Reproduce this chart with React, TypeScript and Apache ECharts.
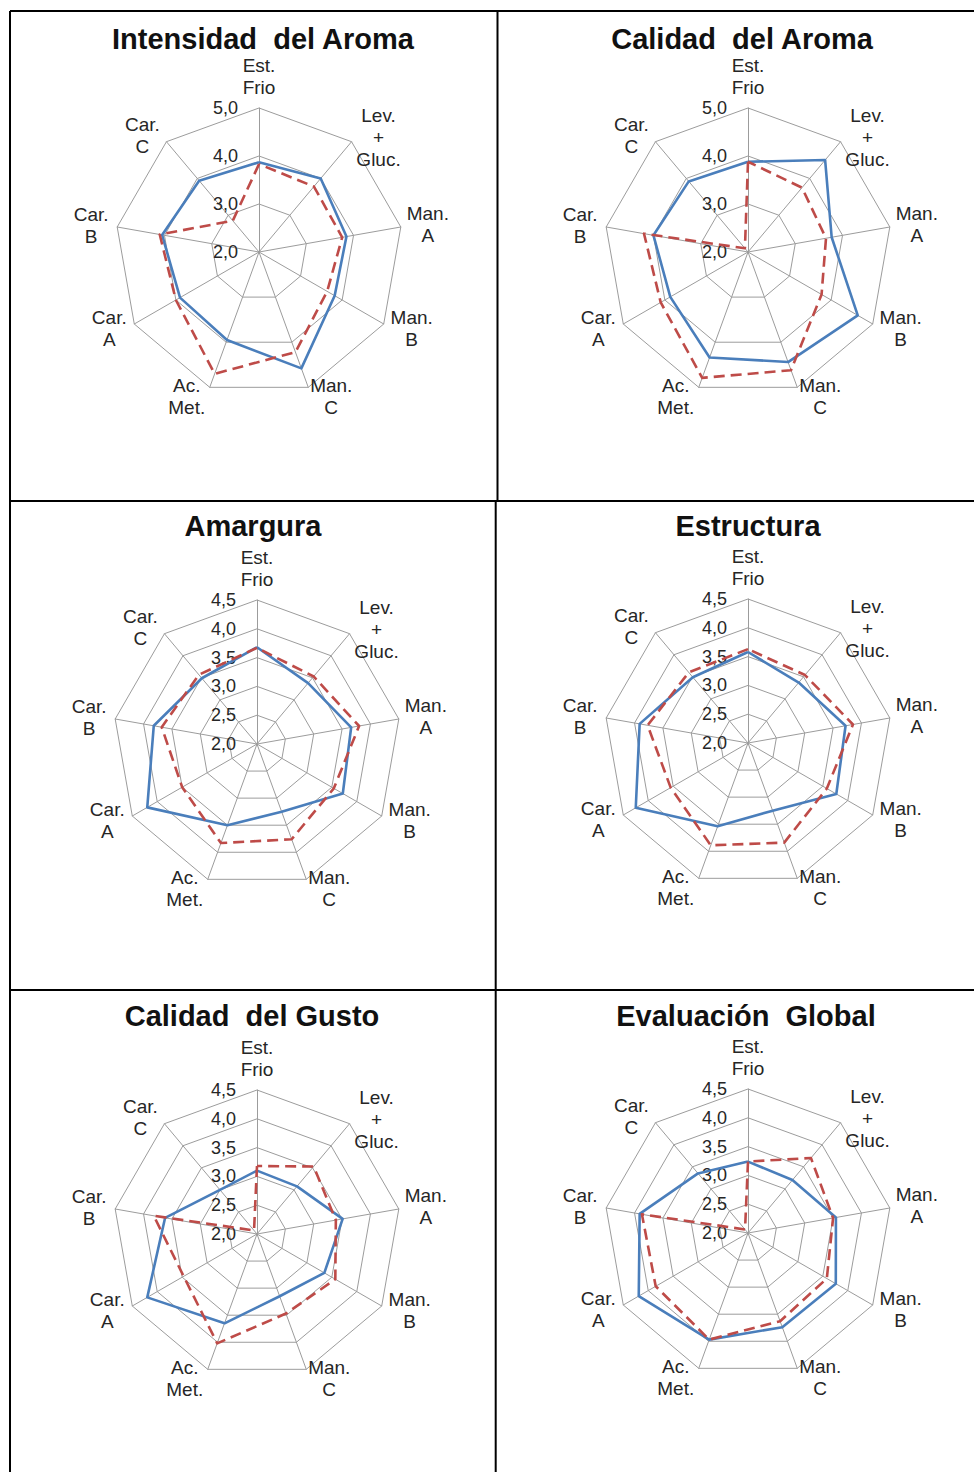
import React, { useEffect, useRef } from "react";
import * as echarts from "echarts";

// ---------- data ----------
const categories = [
  "Est.\nFrio",
  "Lev.\n+\nGluc.",
  "Man.\nA",
  "Man.\nB",
  "Man.\nC",
  "Ac.\nMet.",
  "Car.\nA",
  "Car.\nB",
  "Car.\nC",
];

const titles = [
  "Intensidad  del Aroma",
  "Calidad  del Aroma",
  "Amargura",
  "Estructura",
  "Calidad  del Gusto",
  "Evaluación  Global",
];

const axisMin = 2;
const axisMax = [5, 5, 4.5, 4.5, 4.5, 4.5];
const axisSplits = [3, 3, 5, 5, 5, 5];

// blue solid series / red dashed series, in category order
const intensidadBlue = [3.87, 4.0, 3.85, 3.82, 4.58, 3.95, 3.9, 4.05, 3.94];
const intensidadRed = [3.83, 3.78, 3.76, 3.64, 4.22, 4.7, 4.0, 4.1, 2.85];

const calidadAromaBlue = [3.88, 4.5, 3.77, 4.64, 4.44, 4.34, 3.87, 4.0, 3.92];
const calidadAromaRed = [3.88, 3.75, 3.65, 3.77, 4.62, 4.79, 4.1, 4.2, 2.1];

const amarguraBlue = [3.68, 3.38, 3.66, 3.72, 3.25, 3.5, 4.2, 3.82, 3.49];
const amarguraRed = [3.67, 3.53, 3.8, 3.54, 3.76, 3.83, 3.5, 3.68, 3.57];

const estructuraBlue = [3.58, 3.37, 3.72, 3.77, 3.25, 3.54, 4.25, 3.91, 3.49];
const estructuraRed = [3.63, 3.54, 3.85, 3.58, 3.84, 3.89, 3.55, 3.77, 3.6];

const calidadGustoBlue = [3.1, 3.08, 3.51, 3.35, 3.15, 3.65, 4.2, 3.62, 3.0];
const calidadGustoRed = [3.18, 3.53, 3.39, 3.57, 3.47, 4.02, 3.47, 3.82, 2.08];

const globalBlue = [3.24, 3.2, 3.55, 3.76, 3.74, 3.97, 4.19, 3.91, 3.35];
const globalRed = [3.24, 3.7, 3.5, 3.58, 3.63, 3.97, 3.85, 3.87, 2.08];

const blueSeries = [intensidadBlue, calidadAromaBlue, amarguraBlue, estructuraBlue, calidadGustoBlue, globalBlue];
const redSeries = [intensidadRed, calidadAromaRed, amarguraRed, estructuraRed, calidadGustoRed, globalRed];

// ---------- layout ----------
const W = 974;
const H = 1472;
const FONT = '"Liberation Sans", Arial, sans-serif';
const CENTERS: [number, number][] = [
  [259, 252],
  [748, 252],
  [257, 744],
  [748, 743],
  [257, 1234],
  [748, 1233],
];
const RADIUS = 144;
const TITLE_POS: [number, number][] = [
  [263, 39],
  [742, 39],
  [253, 526],
  [748, 526],
  [252, 1016],
  [746, 1016],
];
// desired label centre offset from the axis end, per category (screen px)
const NAME_OFFSETS: [number, number][] = [
  [0, -32],
  [27, -4],
  [27, -2],
  [28, 4],
  [23, 9],
  [-23, 9],
  [-25, 4],
  [-26, -1],
  [-24, -6],
];
// ECharts lays radar indicators counter-clockwise; reorder so they run clockwise
const ORDER = [0, 8, 7, 6, 5, 4, 3, 2, 1];

const BLUE = "#4A7EBB";
const RED = "#BE4B48";
const GRID = "#9C9C9C";
const TEXT = "#262626";

// split a desired offset into a radial gap (gives the vertical part) and a horizontal padding shift
function nameLayout(i: number) {
  const [dx, dy] = NAME_OFFSETS[i];
  const a = ((90 - 40 * i) * Math.PI) / 180;
  const s = -Math.sin(a);
  let gap = Math.abs(s) > 0.1 ? dy / s : 6;
  if (gap < 0) gap = 4;
  const rem = dx - Math.cos(a) * gap;
  const padding = [0, Math.max(0, -2 * rem), 0, Math.max(0, 2 * rem)];
  return { gap, padding };
}

export default function App() {
  const ref = useRef<HTMLDivElement>(null);

  useEffect(() => {
    if (!ref.current) return;
    const chart = echarts.init(ref.current, null, { renderer: "svg" });

    const radar = titles.map((_, k) => ({
      center: CENTERS[k],
      radius: RADIUS,
      shape: "polygon",
      startAngle: 90,
      splitNumber: axisSplits[k],
      axisNameGap: 0,
      axisName: {
        color: TEXT,
        fontSize: 19,
        fontFamily: FONT,
        lineHeight: 22,
        align: "center",
        verticalAlign: "middle",
      },
      axisLine: { lineStyle: { color: GRID, width: 1 } },
      splitLine: { lineStyle: { color: GRID, width: 1 } },
      splitArea: { show: false },
      axisTick: { show: false },
      axisLabel: { show: false },
      indicator: ORDER.map((i) => {
        const lay = nameLayout(i);
        const ind: any = {
          name: categories[i],
          min: axisMin,
          max: axisMax[k],
          nameGap: lay.gap,
          nameTextStyle: { padding: lay.padding },
        };
        if (i === 0) {
          ind.axisLabel = {
            show: true,
            margin: 21,
            color: TEXT,
            fontSize: 18,
            fontFamily: FONT,
            formatter: (v: number) => v.toFixed(1).replace(".", ","),
          };
        }
        return ind;
      }),
    }));

    const series = titles.map((_, k) => ({
      type: "radar",
      radarIndex: k,
      symbol: "none",
      silent: true,
      data: [
        {
          name: "A",
          value: ORDER.map((i) => blueSeries[k][i]),
          lineStyle: { color: BLUE, width: 2.6 },
          itemStyle: { color: BLUE },
        },
        {
          name: "B",
          value: ORDER.map((i) => redSeries[k][i]),
          lineStyle: { color: RED, width: 2.6, type: [11, 6] },
          itemStyle: { color: RED },
        },
      ],
    }));

    const border = { stroke: "#000", lineWidth: 2 };
    const lines = [
      [10, 11, W, 11],
      [10, 11, 10, H],
      [497.5, 11, 497.5, 501],
      [495.7, 501, 495.7, H],
      [10, 501, W, 501],
      [10, 990, W, 990],
    ].map(([x1, y1, x2, y2]) => ({
      type: "line",
      shape: { x1, y1, x2, y2 },
      style: border,
      silent: true,
    }));

    const titleTexts = titles.map((t, k) => ({
      type: "text",
      x: TITLE_POS[k][0],
      y: TITLE_POS[k][1],
      silent: true,
      style: {
        text: t,
        align: "center",
        verticalAlign: "middle",
        fill: "#111",
        font: `bold 29px ${FONT}`,
      },
    }));

    chart.setOption({
      animation: false,
      backgroundColor: "#fff",
      radar,
      series,
      graphic: { elements: [...lines, ...titleTexts] },
    } as any);

    return () => chart.dispose();
  }, []);

  return (
    <div
      ref={ref}
      style={{ position: "fixed", left: 0, top: 0, width: W, height: H, background: "#fff" }}
    />
  );
}
